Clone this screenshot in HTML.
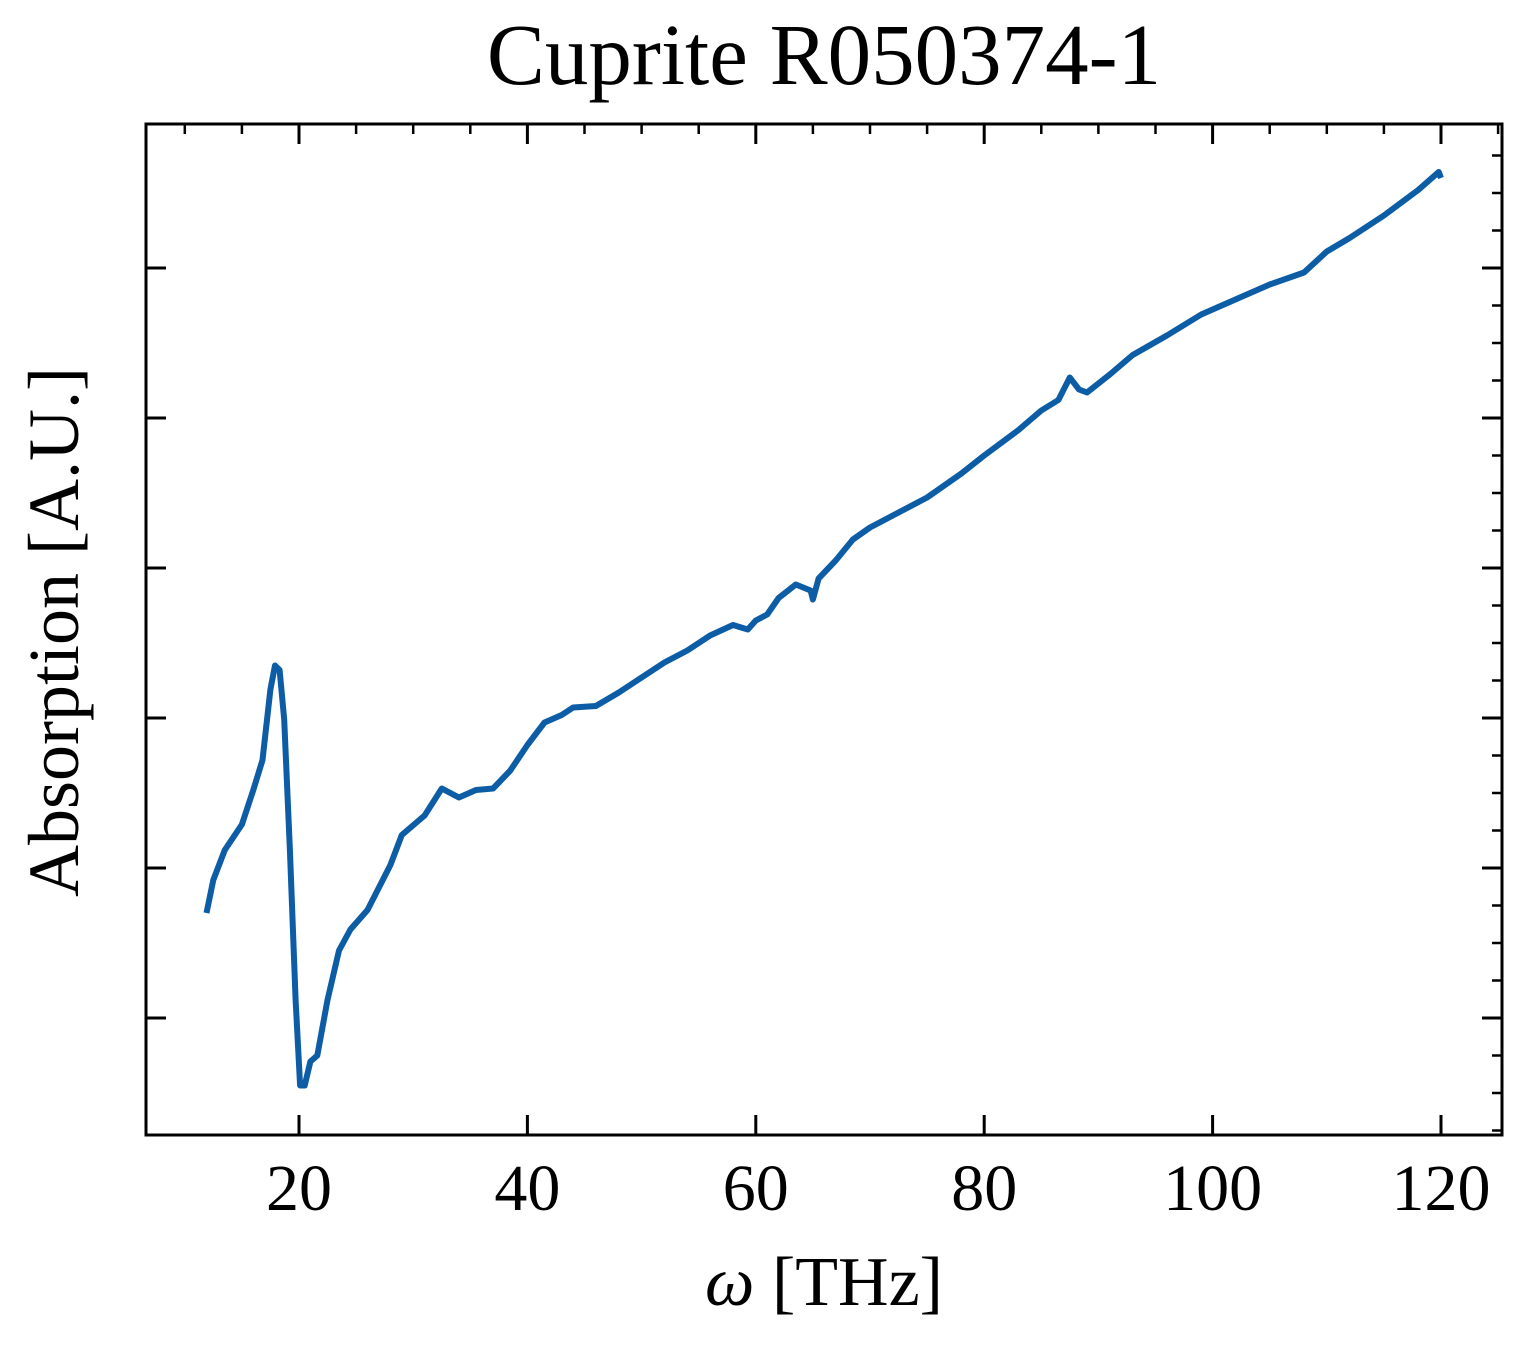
<!DOCTYPE html>
<html><head><meta charset="utf-8"><style>
body{margin:0;background:#fff}
svg text{font-family:"Liberation Serif","DejaVu Serif",serif;fill:#000}
</style></head><body>
<svg id="chart" width="1527" height="1346" xmlns="http://www.w3.org/2000/svg">
<text x="824" y="84" font-size="87" text-anchor="middle">Cuprite R050374-1</text>
<text x="824" y="1305" font-size="70" text-anchor="middle"><tspan font-style="italic">ω</tspan> [THz]</text>
<text transform="translate(78,632) rotate(-90)" font-size="72" text-anchor="middle">Absorption [A.U.]</text>
<g id="ticks"></g>
<path id="line" fill="none" stroke="#0c5da5" stroke-width="6" stroke-linejoin="round"/>
<rect x="146" y="124" width="1356" height="1011" fill="none" stroke="#000" stroke-width="3"/>
</svg>
<script>
const freqs=[11.9,12.5,13.5,15,16,16.8,17.5,17.9,18.3,18.7,19.2,19.7,20.1,20.5,21,21.6,22.5,23.5,24.5,26,28,29,31,32.5,34,35.5,37,38.5,40,41.5,43,44,46,48,50,52,54,56,58,59.3,60,61,62,63.5,64.8,65,65.5,67,68.5,70,72,75,78,80,83,85,86.5,87.5,88.3,89,91,93,96,99,102,105,108,110,112,115,118,119.8,120];
const absorption=[0.70,0.92,1.12,1.29,1.52,1.72,2.19,2.35,2.32,1.99,1.12,0.12,-0.45,-0.45,-0.29,-0.25,0.12,0.45,0.59,0.72,1.02,1.22,1.35,1.53,1.47,1.52,1.53,1.65,1.82,1.97,2.02,2.07,2.08,2.17,2.27,2.37,2.45,2.55,2.62,2.59,2.65,2.69,2.80,2.89,2.85,2.79,2.93,3.05,3.19,3.27,3.35,3.47,3.63,3.75,3.92,4.05,4.12,4.27,4.19,4.17,4.29,4.42,4.55,4.69,4.79,4.89,4.97,5.11,5.20,5.35,5.52,5.64,5.60];
const xTicks=[20,40,60,80,100,120];
const xTickLabels=["20","40","60","80","100","120"];
const yTicks=[0,1,2,3,4,5];
const X=v=>70.6+v*11.42;
const Y=v=>1018-v*150;
const ns="http://www.w3.org/2000/svg";
const g=document.getElementById('ticks');
function ln(x1,y1,x2,y2,w,name){const l=document.createElementNS(ns,'line');
l.setAttribute('x1',x1);l.setAttribute('y1',y1);l.setAttribute('x2',x2);l.setAttribute('y2',y2);
l.setAttribute('stroke','#000');l.setAttribute('stroke-width',w);


g.appendChild(l);}
xTicks.forEach((t,i)=>{const x=X(t);
ln(x,1135,x,1115,3,'x-tick');ln(x,124,x,144,3,'x-tick-top');
const tx=document.createElementNS(ns,'text');tx.setAttribute('x',x);tx.setAttribute('y',1210);
tx.setAttribute('font-size','66');tx.setAttribute('text-anchor','middle');tx.textContent=xTickLabels[i];


g.appendChild(tx);});
for(let t=10;t<=125;t+=5){if(t%20!==0){const x=X(t);if(x>146&&x<1502)ln(x,124,x,134,2.5,'x-minor-tick-top');}}
yTicks.forEach(t=>{const y=Y(t);ln(146,y,166,y,3,'y-tick');ln(1502,y,1482,y,3,'y-tick-right');});
for(let t=-0.75;t<=6;t+=0.25){if(Math.abs(t-Math.round(t))>0.01){const y=Y(t);if(y>124&&y<1135)ln(1502,y,1492,y,2.5,'y-minor-tick-right');}}
document.getElementById('line').setAttribute('d',freqs.map((f,i)=>(i?'L':'M')+X(f).toFixed(1)+','+Y(absorption[i]).toFixed(1)).join(''));
</script>
</body></html>
